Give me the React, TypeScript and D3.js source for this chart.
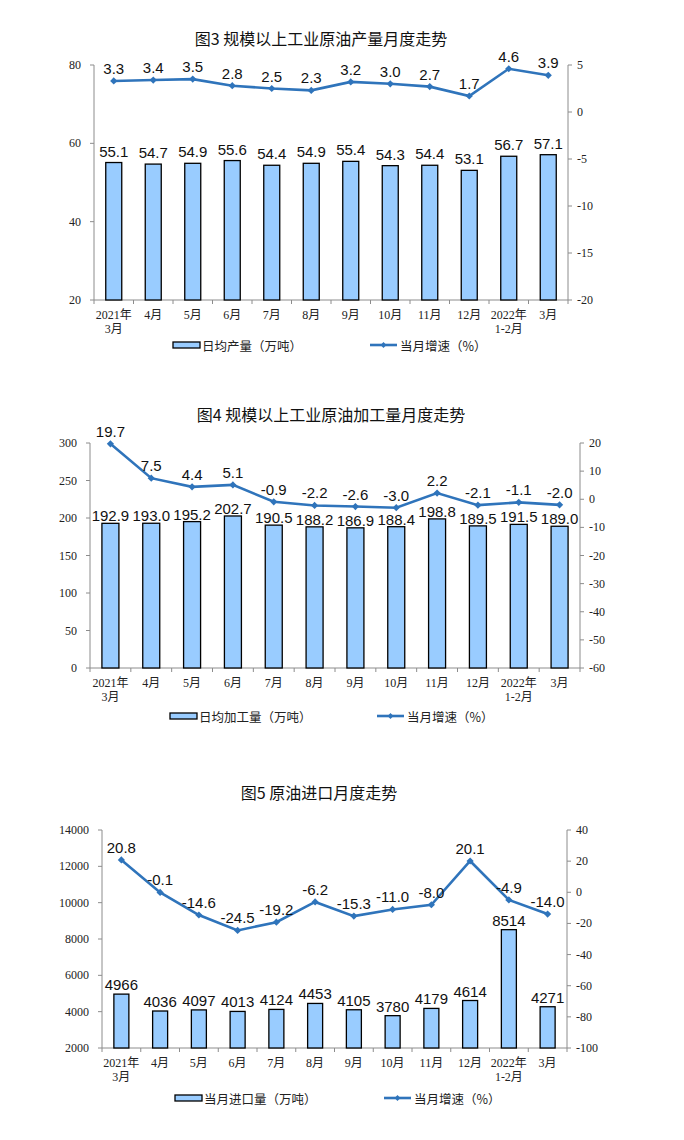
import React from "react";
import * as d3 from "d3";

const categories = ["2021年|3月", "4月", "5月", "6月", "7月", "8月", "9月", "10月", "11月", "12月", "2022年|1-2月", "3月"];

const c1Bars = [55.1, 54.7, 54.9, 55.6, 54.4, 54.9, 55.4, 54.3, 54.4, 53.1, 56.7, 57.1];
const c1Line = [3.3, 3.4, 3.5, 2.8, 2.5, 2.3, 3.2, 3.0, 2.7, 1.7, 4.6, 3.9];
const c1LeftTicks = [20, 40, 60, 80];
const c1RightTicks = [-20, -15, -10, -5, 0, 5];

const c2Bars = [192.9, 193.0, 195.2, 202.7, 190.5, 188.2, 186.9, 188.4, 198.8, 189.5, 191.5, 189.0];
const c2Line = [19.7, 7.5, 4.4, 5.1, -0.9, -2.2, -2.6, -3.0, 2.2, -2.1, -1.1, -2.0];
const c2LeftTicks = [0, 50, 100, 150, 200, 250, 300];
const c2RightTicks = [-60, -50, -40, -30, -20, -10, 0, 10, 20];

const c3Bars = [4966, 4036, 4097, 4013, 4124, 4453, 4105, 3780, 4179, 4614, 8514, 4271];
const c3Line = [20.8, -0.1, -14.6, -24.5, -19.2, -6.2, -15.3, -11.0, -8.0, 20.1, -4.9, -14.0];
const c3LeftTicks = [2000, 4000, 6000, 8000, 10000, 12000, 14000];
const c3RightTicks = [-100, -80, -60, -40, -20, 0, 20, 40];

const charts = [
  {
    title: "图3  规模以上工业原油产量月度走势",
    bars: c1Bars, line: c1Line, leftTicks: c1LeftTicks, rightTicks: c1RightTicks,
    barFmt: (v: number) => v.toFixed(1), lineFmt: (v: number) => v.toFixed(1),
    barLegend: "日均产量（万吨）", lineLegend: "当月增速（%）",
    layout: { titleX: 321, titleY: 38, x0: 94, x1: 568, yTop: 65, yBottom: 300, barW: 16, barGap: 6, legendY: 345, rectX: 173, lineLegX: 370 },
  },
  {
    title: "图4  规模以上工业原油加工量月度走势",
    bars: c2Bars, line: c2Line, leftTicks: c2LeftTicks, rightTicks: c2RightTicks,
    barFmt: (v: number) => v.toFixed(1), lineFmt: (v: number) => v.toFixed(1),
    barLegend: "日均加工量（万吨）", lineLegend: "当月增速（%）",
    layout: { titleX: 331, titleY: 414, x0: 90, x1: 580, yTop: 443, yBottom: 668, barW: 17, barGap: 2, legendY: 716, rectX: 170, lineLegX: 377 },
  },
  {
    title: "图5  原油进口月度走势",
    bars: c3Bars, line: c3Line, leftTicks: c3LeftTicks, rightTicks: c3RightTicks,
    barFmt: (v: number) => String(v), lineFmt: (v: number) => v.toFixed(1),
    barLegend: "当月进口量（万吨）", lineLegend: "当月增速（%）",
    layout: { titleX: 319, titleY: 792, x0: 102, x1: 567, yTop: 830, yBottom: 1048, barW: 15, barGap: 4, legendY: 1098, rectX: 175, lineLegX: 384 },
  },
];

const BAR_FILL = "#99ccff";
const LINE_COLOR = "#2f74bb";
const AXIS_COLOR = "#8c8c8c";
const SANS = "'Liberation Sans', Arial, 'Noto Sans CJK SC', sans-serif";
const SERIF = "'Liberation Serif', 'Times New Roman', 'Noto Sans CJK SC', serif";
const CJK = "'Noto Sans CJK SC', sans-serif";

const diamond = d3.symbol().type(d3.symbolSquare).size(26)() as string;

function Chart({ c }: { c: typeof charts[number] }) {
  const L = c.layout;
  const x = d3.scaleBand<string>().domain(categories).range([L.x0, L.x1]).padding(0);
  const yL = d3.scaleLinear().domain(d3.extent(c.leftTicks) as [number, number]).range([L.yBottom, L.yTop]);
  const yR = d3.scaleLinear().domain(d3.extent(c.rightTicks) as [number, number]).range([L.yBottom, L.yTop]);
  const bw = x.bandwidth();
  const cx = (i: number) => (x(categories[i]) as number) + bw / 2;
  const lineGen = d3.line<number>().x((_, i) => cx(i)).y((d) => yR(d));
  const boundaries = d3.range(categories.length + 1).map((i) => L.x0 + i * bw);
  return (
    <g>
      <text x={L.titleX} y={L.titleY} textAnchor="middle" dominantBaseline="central" fontFamily={CJK} fontSize={16} fill="#111">{c.title}</text>
      {/* left axis */}
      <line x1={L.x0} x2={L.x0} y1={L.yTop} y2={L.yBottom} stroke={AXIS_COLOR} strokeWidth={1} />
      {c.leftTicks.map((t) => (
        <g key={"l" + t}>
          <line x1={L.x0 - 4} x2={L.x0} y1={yL(t)} y2={yL(t)} stroke={AXIS_COLOR} />
          <text x={L.x0 - 13} y={yL(t)} textAnchor="end" dominantBaseline="central" fontFamily={SERIF} fontSize={12} fill="#222">{t}</text>
        </g>
      ))}
      {/* right axis */}
      <line x1={L.x1} x2={L.x1} y1={L.yTop} y2={L.yBottom} stroke={AXIS_COLOR} strokeWidth={1} />
      {c.rightTicks.map((t) => (
        <g key={"r" + t}>
          <line x1={L.x1} x2={L.x1 + 4} y1={yR(t)} y2={yR(t)} stroke={AXIS_COLOR} />
          <text x={L.x1 + 9} y={yR(t)} textAnchor="start" dominantBaseline="central" fontFamily={SERIF} fontSize={12} fill="#222">{t}</text>
        </g>
      ))}
      {/* bottom axis */}
      <line x1={L.x0} x2={L.x1} y1={L.yBottom} y2={L.yBottom} stroke={AXIS_COLOR} />
      {boundaries.map((b, i) => (
        <line key={"b" + i} x1={b} x2={b} y1={L.yBottom} y2={L.yBottom + 4} stroke={AXIS_COLOR} />
      ))}
      {categories.map((cat, i) => {
        const parts = cat.split("|");
        return (
          <text key={"x" + i} x={cx(i)} y={L.yBottom + 15} textAnchor="middle" dominantBaseline="central" fontFamily={SERIF} fontSize={12} fill="#222">
            {parts.map((p, j) => (
              <tspan key={j} x={cx(i)} dy={j === 0 ? 0 : 14}>{p}</tspan>
            ))}
          </text>
        );
      })}
      {/* bars */}
      {c.bars.map((v, i) => (
        <g key={"bar" + i}>
          <rect x={cx(i) - L.barW / 2} y={yL(v)} width={L.barW} height={L.yBottom - yL(v)} fill={BAR_FILL} stroke="#000" strokeWidth={1.3} />
          <text x={cx(i)} y={yL(v) - L.barGap} textAnchor="middle" fontFamily={SANS} fontSize={15} fill="#111">{c.barFmt(v)}</text>
        </g>
      ))}
      {/* line */}
      <path d={lineGen(c.line) as string} fill="none" stroke={LINE_COLOR} strokeWidth={2.6} />
      {c.line.map((v, i) => (
        <g key={"pt" + i}>
          <path d={diamond} transform={`translate(${cx(i)},${yR(v)}) rotate(45)`} fill={LINE_COLOR} />
          <text x={cx(i)} y={yR(v) - 7} textAnchor="middle" fontFamily={SANS} fontSize={15} fill="#111">{c.lineFmt(v)}</text>
        </g>
      ))}
      {/* legend */}
      <rect x={L.rectX} y={L.legendY - 3} width={27} height={6} fill={BAR_FILL} stroke="#000" strokeWidth={1.3} />
      <text x={L.rectX + 29} y={L.legendY} dominantBaseline="central" fontFamily={CJK} fontSize={12.5} fill="#222">{c.barLegend}</text>
      <line x1={L.lineLegX} x2={L.lineLegX + 27} y1={L.legendY} y2={L.legendY} stroke={LINE_COLOR} strokeWidth={2.6} />
      <path d={diamond} transform={`translate(${L.lineLegX + 13.5},${L.legendY}) rotate(45) scale(0.8)`} fill={LINE_COLOR} />
      <text x={L.lineLegX + 30} y={L.legendY} dominantBaseline="central" fontFamily={CJK} fontSize={12.5} fill="#222">{c.lineLegend}</text>
    </g>
  );
}

export default function App() {
  return (
    <svg width={684} height={1140} style={{ position: "absolute", left: 0, top: 0, background: "#fff" }}>
      <rect width={684} height={1140} fill="#fff" />
      {charts.map((c, i) => (
        <Chart key={i} c={c} />
      ))}
    </svg>
  );
}
